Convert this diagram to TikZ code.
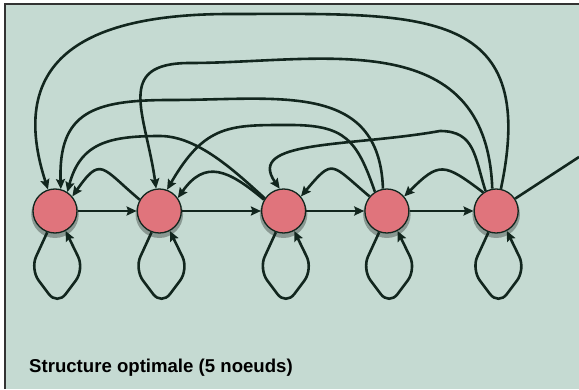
\documentclass[tikz,border=0pt]{standalone}
\usepackage{fontspec}
\newfontfamily\captionfont{Liberation Sans}
\usetikzlibrary{arrows.meta,positioning,shadows}
\definecolor{panel}{RGB}{197,218,210}
\definecolor{nodered}{RGB}{224,116,124}
\definecolor{edgedark}{RGB}{18,38,30}
\tikzset{
    x=1pt, y=1pt, node distance=1cm and 1cm,
    state/.style={circle, draw=edgedark, line width=1.3pt, fill=nodered, minimum size=44pt, inner sep=0pt,
        drop shadow={shadow xshift=0pt, shadow yshift=-3pt, shadow scale=1.08, opacity=0.3, fill=black}},
    link/.style={-{Stealth[length=10pt,width=9pt,inset=1.5pt]}, line width=2.6pt, draw=edgedark},
    selfloop/.style={link, rounded corners=14pt},
    caption/.style={anchor=base west, inner sep=0pt, font=\captionfont\bfseries\fontsize{18.6}{22}\selectfont}
}

\begin{document}
\begin{tikzpicture}
    \useasboundingbox (0,0) rectangle (579,389);
    \fill[white] (0,0) rectangle (579,389);
    \fill[panel] (5,0) rectangle (579,385);
    \draw[black!80, line width=2pt] (5,0) -- (5,385) -- (579,385);
    % The five states
    \node[state] (n1) at (55,178) {};
    \node[state] (n2) [right=59pt of n1] {};
    \node[state] (n3) [right=79pt of n2] {};
    \node[state] (n4) [right=58pt of n3] {};
    \node[state] (n5) [right=64pt of n4] {};
    % Forward chain
    \path[link] (n1) edge (n2);
    \path[link] (n2) edge (n3);
    \path[link] (n3) edge (n4);
    \path[link] (n4) edge (n5);
    % Self loops under each state
    \draw[selfloop] (n1.-110) -- ++(-17,-37) -- ++(27,-36) -- ++(27,36) -- (n1.-62);
    \draw[selfloop] (n2.-110) -- ++(-17,-37) -- ++(27,-36) -- ++(27,36) -- (n2.-62);
    \draw[selfloop] (n3.-110) -- ++(-17,-37) -- ++(27,-36) -- ++(27,36) -- (n3.-62);
    \draw[selfloop] (n4.-110) -- ++(-17,-37) -- ++(27,-36) -- ++(27,36) -- (n4.-62);
    \draw[selfloop] (n5.-110) -- ++(-17,-37) -- ++(27,-36) -- ++(27,36) -- (n5.-62);
    % Short arcs back to the previous state
    \draw[link] (n2.150) to[out=140,in=55,looseness=1.9] (n1.40);
    \draw[link] (n3.150) to[out=140,in=55,looseness=1.4] (n2.35);
    \draw[link] (n4.140) to[out=140,in=50,looseness=1.9] (n3.40);
    \draw[link] (n5.125) to[out=143,in=45,looseness=1.6] (n4.40);
    % Long arcs over the top
    \coordinate (top51) at (230,375);
    \coordinate (top52) at (190,326);
    \coordinate (top41) at (170,289);
    \coordinate (top31) at (160,253);
    \coordinate (top42) at (290,264);
    \coordinate (top53) at (440,258);
    \draw[link] (n5) to[out=78,in=0,looseness=1.5] (top51)
        to[out=180,in=108,out looseness=1.3,in looseness=1.5] (n1);
    \draw[link] (n5.100) to[out=92,in=0,out looseness=1.3,in looseness=1] (top52)
        to[out=180,in=98,looseness=1.5] (n2);
    \draw[link] (n4.100) to[out=92,in=0,looseness=1.2] (top41)
        to[out=180,in=92,looseness=1.4] (n1.75);
    \draw[link] (n3.146) to[out=138,in=0,looseness=0.8] (top31)
        to[out=180,in=75,looseness=1.2] (n1.57);
    \draw[link] (n4.122) to[out=109,in=0,looseness=1.3] (top42)
        to[out=180,in=60,out looseness=1.1,in looseness=1.4] (n2.70);
    \draw[link] (n5.118) to[out=108,in=0,looseness=1.2] (top53)
        to[out=190,in=125,out looseness=1.4,in looseness=0.9] (n3.100);
    % Edge leaving the picture
    \coordinate (offright) at (579,232);
    \draw[line width=2.6pt, draw=edgedark] (n5) -- (offright);
    % Caption
    \node[caption] (title) at (29,17) {Structure optimale (5 noeuds)};
\end{tikzpicture}
\end{document}
